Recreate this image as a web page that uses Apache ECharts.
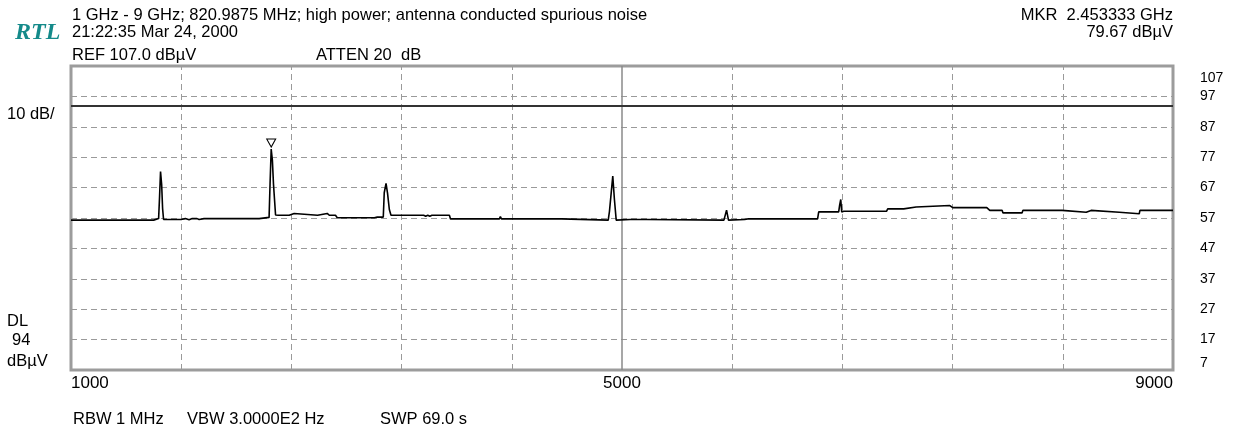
<!DOCTYPE html>
<html>
<head>
<meta charset="utf-8">
<script src="https://cdn.jsdelivr.net/npm/echarts@6/dist/echarts.min.js"></script>
<style>
html,body{margin:0;padding:0;background:#fff;}
#chart{width:1240px;height:430px;}
</style>
</head>
<body>
<div id="chart"></div>
<script>
// ---- data ----
var freqMHz = [1000,1600,1636,1643,1650,1658,1665,1672,1799,1830,1857,1880,1894,1915,1930,1966,2366,2370,2438,2445,2453.333,2462,2470,2478,2485,2504,2584,2595,2620,2630,2790,2802,2860,2875,2920,2933,3202,3223,3267,3274,3287,3298,3311,3323,3560,3575,3590,3605,3620,3747,3755,4110,4117,4125,4560,4568,4900,4909,4924,4933,4945,4958,5060,5069,5084,5098,5178,5185,5740,5759,5773,5890,5912,6150,6159,6168,6420,6428,6573,6580,6588,6595,6610,6689,6700,6726,6920,6929,7045,7053,7135,7140,7380,7401,7648,7670,7760,7765,7905,7910,8195,8201,8370,8375,8405,8411,8610,8615,8755,8760,9000];
var levelDbuv = [56.3,56.3,56.8,64.1,72.3,68.1,60.1,56.5,56.5,56.8,56.4,56.8,56.4,56.8,56.5,56.8,56.8,57.2,57.2,68.1,79.67,76.0,68.1,68.1,58.0,57.9,57.9,58.5,58.5,57.9,57.9,58.5,58.5,57.9,57.9,57.1,57.1,57.3,57.3,65.3,68.4,65.1,59.8,57.9,57.9,57.6,57.9,57.6,57.9,57.9,56.7,56.7,57.5,56.7,56.7,56.3,56.3,59.2,66.4,70.8,63.1,56.3,56.5,56.1,56.5,56.1,56.5,56.3,56.3,59.6,56.3,56.5,56.7,56.7,57.2,56.7,56.7,59.0,59.0,61.2,63.1,59.0,59.2,59.2,58.8,59.2,59.2,60.0,60.0,60.6,60.6,61.1,61.1,60.4,60.4,59.5,59.5,58.7,58.7,59.5,59.5,58.9,58.9,59.5,59.5,58.9,58.9,58.4,58.4,59.5,59.5];
var markerFreq = 2453.333;
var markerLevel = 79.67;
var displayLine = 94;
var xMin = 1000, xMax = 9000;
var yMin = 7, yMax = 107;
var xLabelValues = [1000, 5000, 9000];
var xGridValues = [1800, 2600, 3400, 4200, 5800, 6600, 7400, 8200];
var xCenterValue = 5000;
var yLabelValues = [7, 17, 27, 37, 47, 57, 67, 77, 87, 97, 107];
var yGridValues = [17, 27, 37, 47, 57, 67, 77, 87, 97];

// ---- chart ----
var FONT = 'Liberation Sans';
var chart = echarts.init(document.getElementById('chart'), null, {renderer: 'canvas'});
var traceData = freqMHz.map(function (f, i) { return [f, levelDbuv[i]]; });
var gridStyle = {color: '#9a9a9a', width: 1, type: [6, 4]};
var gridLines = [];
xGridValues.forEach(function (v) { gridLines.push({xAxis: v, lineStyle: gridStyle}); });
yGridValues.forEach(function (v) { gridLines.push({yAxis: v, lineStyle: gridStyle}); });
gridLines.push({xAxis: xCenterValue, lineStyle: {color: '#8a8a8a', width: 1.5, type: 'solid'}});
gridLines.push({yAxis: displayLine, lineStyle: {color: '#333', width: 2, type: 'solid'}});

function txt(x, y, s, extra) {
  var style = {text: s, x: x, y: y, fill: '#000', font: '16.5px "' + FONT + '"', textAlign: 'left', textVerticalAlign: 'middle'};
  if (extra) for (var k in extra) style[k] = extra[k];
  return {type: 'text', silent: true, style: style};
}

chart.setOption({
  animation: false,
  backgroundColor: '#fff',
  textStyle: {fontFamily: FONT},
  grid: {left: 71, right: 67, top: 66, bottom: 60, show: true, borderColor: '#9c9c9c', borderWidth: 3, backgroundColor: 'transparent'},
  xAxis: {
    type: 'value', min: xMin, max: xMax,
    axisLine: {show: false}, axisTick: {show: false}, splitLine: {show: false},
    axisLabel: {customValues: xLabelValues, color: '#000', fontSize: 17, fontFamily: FONT, margin: 5,
      alignMinLabel: 'left', alignMaxLabel: 'right',
      formatter: function (v) { return String(v); }}
  },
  yAxis: {
    type: 'value', min: yMin, max: yMax, position: 'right',
    axisLine: {show: false}, axisTick: {show: false}, splitLine: {show: false},
    axisLabel: {customValues: yLabelValues, color: '#000', fontSize: 14, fontFamily: FONT, margin: 27,
      verticalAlignMinLabel: 'bottom', verticalAlignMaxLabel: 'top',
      formatter: function (v) { return v === yMax ? '{mx|' + v + '}' : String(v); },
      rich: {mx: {fontSize: 14, fontFamily: FONT, color: '#000', padding: [5, 0, 0, 0]}}}
  },
  series: [
    {
      type: 'line', data: [], z: 1, silent: true,
      markLine: {symbol: 'none', silent: true, label: {show: false}, emphasis: {disabled: true}, animation: false, data: gridLines}
    },
    {
      type: 'line', data: traceData, z: 5, showSymbol: false, silent: true,
      lineStyle: {color: '#000', width: 1.6},
      markPoint: {
        silent: true, animation: false,
        symbol: 'triangle', symbolRotate: 180, symbolSize: [9, 8], symbolOffset: [0, -6],
        itemStyle: {color: '#fff', borderColor: '#000', borderWidth: 1},
        label: {show: false},
        data: [{coord: [markerFreq, markerLevel]}]
      }
    }
  ],
  graphic: [
    txt(72, 15, '1 GHz - 9 GHz; 820.9875 MHz; high power; antenna conducted spurious noise'),
    txt(72, 32, '21:22:35 Mar 24, 2000'),
    txt(72, 55, 'REF 107.0 dB\u00b5V'),
    txt(316, 55, 'ATTEN 20  dB'),
    txt(15, 33, 'RTL', {font: 'italic bold 24px "Liberation Serif"', fill: '#148a8a'}),
    txt(1173, 15, 'MKR  2.453333 GHz', {textAlign: 'right'}),
    txt(1173, 32, '79.67 dB\u00b5V', {textAlign: 'right'}),
    txt(7, 114, '10 dB/'),
    txt(7, 321, 'DL'),
    txt(12, 340, '94'),
    txt(7, 361, 'dB\u00b5V'),
    txt(73, 419, 'RBW 1 MHz'),
    txt(187, 419, 'VBW 3.0000E2 Hz'),
    txt(380, 419, 'SWP 69.0 s')
  ]
});
</script>
</body>
</html>
